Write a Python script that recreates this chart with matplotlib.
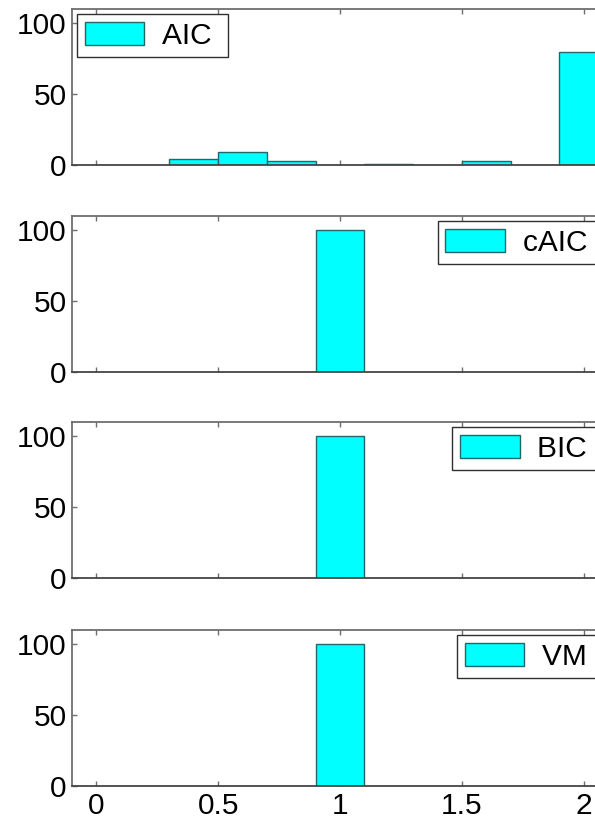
import matplotlib
matplotlib.use("Agg")
import matplotlib.pyplot as plt
from matplotlib.patches import Rectangle
from matplotlib.legend_handler import HandlerPatch
import numpy as np

# histogram bins (centres, width 0.2) and percentage of runs per criterion
bin_centers = [0.0, 0.2, 0.4, 0.6, 0.8, 1.0, 1.2, 1.4, 1.6, 1.8, 2.0]
aic_counts = [0, 0, 4, 9, 3, 0, 1, 0, 3, 0, 80]
caic_counts = [0, 0, 0, 0, 0, 100, 0, 0, 0, 0, 0]
bic_counts = [0, 0, 0, 0, 0, 100, 0, 0, 0, 0, 0]
vm_counts = [0, 0, 0, 0, 0, 100, 0, 0, 0, 0, 0]

names = ["AIC", "cAIC", "BIC", "VM"]
counts = [aic_counts, caic_counts, bic_counts, vm_counts]
legend_loc = ["upper left", "upper right", "upper right", "upper right"]

x_ticks = [0, 0.5, 1, 1.5, 2]
x_ticklabels = ["0", "0.5", "1", "1.5", "2"]
y_ticks = [0, 50, 100]

plt.rcParams['font.family'] = ['Liberation Sans', 'DejaVu Sans']

W, H = 595, 824
fig = plt.figure(figsize=(W / 100, H / 100), dpi=100)

left_px, right_px = 72, 608
bottoms_px = [165, 372, 578, 786]
height_px = 156

face = '#00ffff'
edge = '#1e6a6a'
spine_col = '#6e6e6e'
fs = 21.5


def make_patch(legend, orig_handle, xdescent, ydescent, width, height, fontsize):
    # shift the swatch right so the box gets a wider left margin
    off = 0.3 * fontsize
    return Rectangle((-xdescent + off, -ydescent), width - off, height)


for i in range(4):
    ax = fig.add_axes([left_px / W, 1 - bottoms_px[i] / H,
                       (right_px - left_px) / W, height_px / H])
    c = np.array(counts[i])
    x = np.array(bin_centers)
    mask = c > 0
    ax.bar(x[mask], c[mask], width=0.2, color=face, edgecolor=edge,
           linewidth=1.0, label=names[i], zorder=2)
    ax.set_xlim(-0.1, 2.1)
    ax.set_ylim(0, 110)
    ax.set_xticks(x_ticks)
    ax.set_yticks(y_ticks)
    if i == 3:
        ax.set_xticklabels(x_ticklabels)
    else:
        ax.set_xticklabels([])
    ax.tick_params(axis='both', direction='in', length=3.6, width=1,
                   colors=spine_col, labelcolor='black', labelsize=fs, pad=4)
    ax.tick_params(axis='x', top=True)
    for s in ax.spines.values():
        s.set_color(spine_col)
        s.set_linewidth(1.3)
    ax.spines['bottom'].set_color('#454545')

    leg = ax.legend(loc=legend_loc[i], fontsize=fs, frameon=True,
                    fancybox=False, framealpha=1, edgecolor='#303030',
                    borderpad=0.25, borderaxespad=0.17, handlelength=2.0,
                    handleheight=0.85, handletextpad=0.6,
                    handler_map={Rectangle: HandlerPatch(patch_func=make_patch)})
    leg.get_frame().set_linewidth(1.0)
    for t in leg.get_texts():
        t.set_text(t.get_text() + " ")

fig.savefig("out.png", dpi=100)
